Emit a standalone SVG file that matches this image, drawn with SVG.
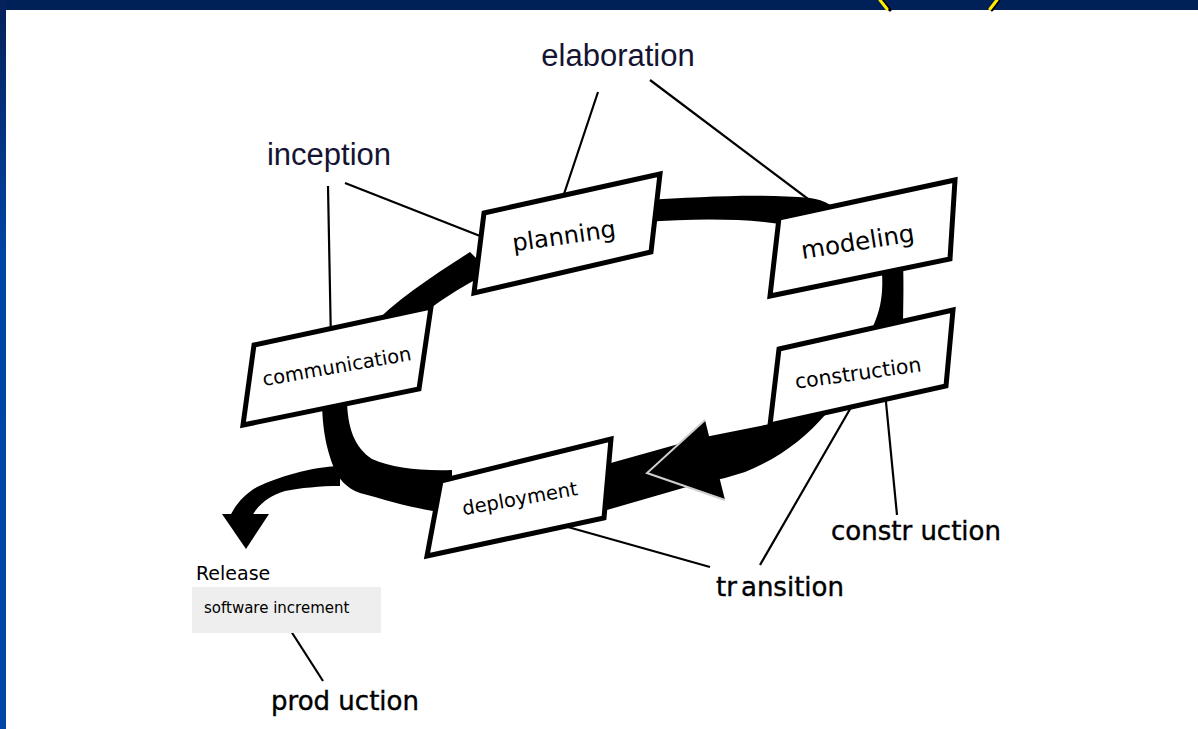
<svg xmlns="http://www.w3.org/2000/svg" width="1198" height="729" viewBox="0 0 1198 729">
  <defs>
    <linearGradient id="sideBar" x1="0" y1="0" x2="0" y2="1">
      <stop offset="0" stop-color="#06205a"/>
      <stop offset="0.35" stop-color="#0045a5"/>
      <stop offset="1" stop-color="#0047a8"/>
    </linearGradient>
    <style>
      .box { fill: #ffffff; stroke: #000000; stroke-width: 5; stroke-linejoin: miter; }
      .band { fill: #000000; stroke: none; }
      .lead { stroke: #000000; stroke-width: 2.2; fill: none; }
      .nodeText { font-family: "DejaVu Sans", "Liberation Sans", sans-serif; fill: #000000; text-anchor: middle; }
      .phase { font-family: "Liberation Sans", Arial, sans-serif; font-size: 31px; fill: #141432; text-anchor: middle; }
      .stage { font-family: "DejaVu Sans", "Liberation Sans", sans-serif; font-size: 26px; fill: #000000; text-anchor: middle; stroke: #000000; stroke-width: 0.4; }
      .small { font-family: "DejaVu Sans", "Liberation Sans", sans-serif; fill: #000000; }
    </style>
  </defs>

  <!-- page frame -->
  <rect x="0" y="0" width="1198" height="729" fill="#ffffff"/>
  <rect x="0" y="0" width="1198" height="10" fill="#002058"/>
  <rect x="0" y="0" width="6" height="729" fill="url(#sideBar)"/>
  <!-- yellow marks at top edge -->
  <g stroke-linecap="round">
    <line x1="882" y1="0" x2="890" y2="10" stroke="#000000" stroke-width="3"/>
    <line x1="880" y1="0" x2="887" y2="9" stroke="#ffee00" stroke-width="3"/>
    <line x1="999" y1="0" x2="992" y2="10" stroke="#000000" stroke-width="3"/>
    <line x1="997" y1="0" x2="990" y2="9" stroke="#ffee00" stroke-width="3"/>
  </g>

  <!-- connectors: the process cycle band, release branch and label leaders -->
  <g id="connectors">
    <!-- communication to planning -->
    <path class="band" d="M 368 330 C 395 300, 430 278, 470 252 L 490 272 C 455 290, 420 312, 398 338 Z"/>
    <!-- planning to modeling -->
    <path class="band" d="M 645 200 C 700 197, 760 193, 810 198 C 825 200, 835 206, 840 215 L 800 228 C 760 218, 700 218, 645 222 Z"/>
    <!-- modeling to construction -->
    <path class="band" d="M 881 262 L 903 260 C 904 290, 903 310, 903 332 L 865 340 C 880 318, 885 295, 881 262 Z"/>
    <!-- construction to deployment -->
    <path class="band" d="M 600 466 L 700 438 L 770 424 L 822 404 L 826 414 C 805 438, 780 458, 745 472 L 725 478 L 690 486 L 600 512 Z"/>
    <polygon points="647,473 705,420 725,500" fill="#000000"/>
    <polyline points="705,420 647,473 725,500" fill="none" stroke="#cfcfcf" stroke-width="2"/>
    <!-- deployment to communication -->
    <path class="band" d="M 322 398 L 347 398 C 347 428, 355 448, 372 459 C 392 468, 420 471, 452 470 L 452 513 C 420 511, 390 501, 360 493 C 346 488, 338 478, 334 468 C 327 450, 322 430, 322 398 Z"/>
    <!-- release branch -->
    <path class="band" d="M 340 466 C 310 467, 278 477, 257 487 C 245 494, 236 504, 230 516 L 252 516 C 258 505, 270 495, 285 491 C 300 488, 320 486, 340 486 Z"/>
    <polygon points="222,514 269,514 246,549" fill="#000000"/>

    <!-- leaders -->
    <line class="lead" x1="598" y1="92" x2="560" y2="206"/>
    <line class="lead" x1="650" y1="80" x2="840" y2="223"/>
    <line class="lead" x1="345" y1="183" x2="503" y2="245"/>
    <line class="lead" x1="328" y1="186" x2="331" y2="343"/>
    <line class="lead" x1="897" y1="515" x2="885" y2="392"/>
    <line class="lead" x1="760" y1="565" x2="857" y2="397"/>
    <line class="lead" x1="543" y1="520" x2="710" y2="567"/>
    <line class="lead" x1="289" y1="628" x2="323" y2="681"/>
  </g>

  <!-- activity nodes -->
  <g id="communication">
    <polygon class="box" points="254,345 431,307 419,389 243,425"/>
    <text class="nodeText" font-size="19.5" transform="translate(338,373) rotate(-10)">communication</text>
  </g>
  <g id="planning">
    <polygon class="box" points="484,213 660,174 651,252 474,293"/>
    <text class="nodeText" font-size="24" transform="translate(565,244) rotate(-8)">planning</text>
  </g>
  <g id="modeling">
    <polygon class="box" points="779,218 955,180 950,259 770,296"/>
    <text class="nodeText" font-size="24.5" transform="translate(859,250) rotate(-9)">modeling</text>
  </g>
  <g id="construction">
    <polygon class="box" points="779,349 953,310 946,386 770,425"/>
    <text class="nodeText" font-size="20.5" transform="translate(859,380) rotate(-8)">construction</text>
  </g>
  <g id="deployment">
    <polygon class="box" points="441,481 611,439 604,518 427,556"/>
    <text class="nodeText" font-size="19.5" transform="translate(521,505) rotate(-10)">deployment</text>
  </g>

  <!-- phase labels -->
  <g id="elaboration"><text class="phase" x="618" y="66">elaboration</text></g>
  <g id="inception"><text class="phase" x="329" y="165">inception</text></g>
  <g id="construction-phase"><text class="stage" x="916" y="540" font-size="27">constr uction</text></g>
  <g id="transition"><text class="stage" x="780" y="596">tr<tspan dx="4">ansition</tspan></text></g>
  <g id="production"><text class="stage" x="345" y="710">prod uction</text></g>

  <!-- release output -->
  <g id="release">
    <text class="small" x="196" y="580" font-size="19">Release</text>
    <rect x="192" y="587" width="189" height="46" fill="#eeeeee"/>
    <text class="small" x="204" y="613" font-size="15">software increment</text>
  </g>
</svg>
